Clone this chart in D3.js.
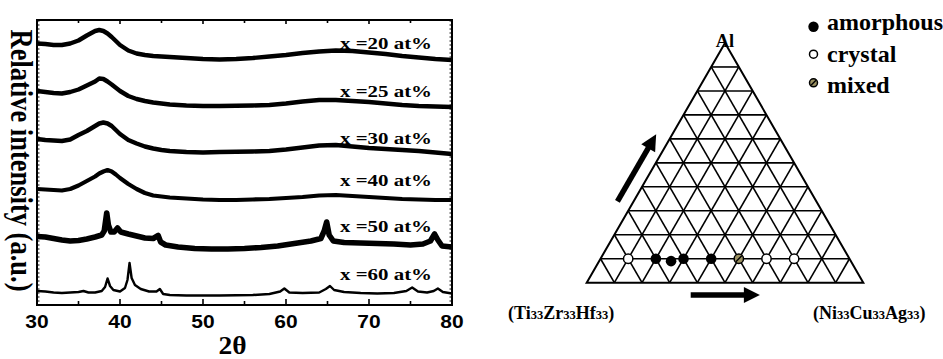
<!DOCTYPE html>
<html><head><meta charset="utf-8">
<script src="https://cdn.jsdelivr.net/npm/d3@7"></script>
<style>html,body{margin:0;padding:0;background:#fff;} svg{display:block;}</style>
</head><body>
<svg id="c" width="943" height="359"></svg>
<script>
// ---------- XRD data (2θ in degrees, relative intensity in a.u., curves already offset) ----------
const twoThetaTicks = [30, 40, 50, 60, 70, 80];
const seriesNames = ["x =20 at%", "x =25 at%", "x =30 at%", "x =40 at%", "x =50 at%", "x =60 at%"];
const labelLevels = [256.5, 208.5, 161.5, 119, 73.5, 25.5];
const seriesNoise = [4.4, 4.4, 4.4, 4.2, 5.6, 2.4];

const xrd20 = [[30,261.5],[31,261],[32,260],[33,260],[34,261.5],[35,264.5],[36,269.5],[37,274],[37.5,275],[38,274],[38.5,271.5],[39,268],[39.5,264],[40,260],[41,254.5],[42,251.5],[43,250],[44,249],[45,248.5],[46,248],[48,247],[50,246],[52,245.5],[54,246],[56,247],[58,248.5],[60,250],[62,252],[64,253.5],[66,254.5],[68,254],[70,252.5],[72,251],[74,249],[76,247.5],[78,246],[80,245]];
const xrd25 = [[30,214],[31,213],[32,212],[33,211.5],[34,213],[35,215.5],[36,219.5],[37,223.5],[37.5,226.5],[38,226],[38.5,223.5],[39,220.5],[40,214],[41,209],[42,206],[43,204],[44,202.5],[45,201.5],[46,200.5],[48,199.5],[50,199],[52,199],[54,199.3],[56,199.5],[58,200],[60,201.5],[62,203.5],[64,205],[66,205],[68,204],[70,203],[72,201.5],[74,200],[76,199],[78,198.5],[80,198]];
const xrd30 = [[30,166],[31,165],[32,164.5],[33,164],[34,165.5],[35,170],[36,174],[37,179],[37.5,181.5],[38,182.5],[38.5,181.5],[39,179],[39.5,175],[40,171],[41,165],[42,161.5],[43,158.5],[44,156.5],[45,155],[46,154],[48,153],[50,152.5],[52,153],[54,153.3],[56,153.5],[58,154],[60,155.5],[62,157.5],[64,159.5],[66,160],[68,158.5],[70,157],[72,156],[74,155],[76,154],[78,152.5],[80,151]];
const xrd40 = [[30,116],[31,115.5],[32,115],[33,114.5],[34,116],[35,119.5],[36,124],[37,128.5],[37.5,131.5],[38,133.5],[38.5,135],[39,133.5],[39.5,130.5],[40,127],[41,121],[42,116],[43,112],[44,109.5],[45,108.5],[46,107.5],[48,106.5],[50,105.5],[52,105],[54,105],[56,105.5],[58,106],[60,107],[62,108],[64,109.5],[66,110],[68,109],[70,108],[72,107],[74,106],[76,105.5],[78,105],[80,105]];
const xrd50 = [[30,68.5],[31,68],[32,66.5],[33,65],[34,64],[35,64.5],[36,66],[37,68],[37.8,70],[38.1,74],[38.4,92],[38.6,80],[38.9,73],[39.3,73],[39.7,77],[40.1,73],[41,71],[42,69],[43,67],[44,66.5],[44.6,69.5],[44.9,63],[45.5,60],[47,58],[49,56.5],[51,56],[53,56],[55,56.5],[57,57.5],[59,59],[61,61.5],[63,64],[64.2,66.5],[64.6,74],[64.9,83],[65.2,70],[65.7,64],[67,62.5],[69,62],[71,61.5],[73,61],[75,60],[76.5,61],[77.4,64],[77.9,71],[78.3,65],[78.8,59],[80,58]];
const xrd60 = [[30,14],[31,13.5],[32,12.5],[33,12],[34,12.5],[35,13],[35.6,14],[36.2,12.5],[37,12.5],[37.8,14],[38.2,18],[38.5,26.5],[38.8,19],[39.2,15],[40,13.5],[40.6,17],[40.9,25],[41.15,42],[41.4,27],[41.8,20],[42.5,16],[43.5,13.5],[44.4,13.5],[44.8,16],[45.2,11],[46,10],[48,9.5],[50,9.5],[52,9.5],[54,9.8],[56,10],[58,11],[59.3,13.5],[59.8,16.5],[60.4,12.5],[62,12],[64,12.5],[64.8,16],[65.3,19],[65.8,15],[67,13],[69,12],[71,11.5],[73,12],[74.5,14],[75.2,17.5],[75.9,13.5],[77,12.5],[77.8,14],[78.3,16.5],[78.9,13],[80,11.5]];
const xrdSeries = [xrd20, xrd25, xrd30, xrd40, xrd50, xrd60];

// ---------- Ternary data (at%) ----------
const ternaryCorners = ["Al", "(Ti33Zr33Hf33)", "(Ni33Cu33Ag33)"];
const ptNiCuAg = [10, 20, 26, 30, 40, 50, 60, 70];
const ptAl     = [10, 10, 9, 10, 10, 10, 10, 10];
const ptPhase  = ["crystal", "amorphous", "amorphous", "amorphous", "amorphous", "mixed", "crystal", "crystal"];
const legendItems = ["amorphous", "crystal", "mixed"];

// ---------- drawing ----------
const svg = d3.select("#c");
const SERIF = "'Liberation Serif','Times New Roman',serif";
const SANS = "'Liberation Sans',Arial,sans-serif";

const x = d3.scaleLinear().domain([30, 80]).range([37, 452]);
const y = d3.scaleLinear().domain([0, 285]).range([305, 20]);

svg.append("defs").append("clipPath").attr("id", "plotclip")
  .append("rect").attr("x", x(30)).attr("y", y(285)).attr("width", x(80) - x(30)).attr("height", y(0) - y(285));

// traces
const line = d3.line().x(d => x(d[0])).y(d => y(d[1]));
svg.append("g").attr("clip-path", "url(#plotclip)")
  .selectAll("path").data(xrdSeries).join("path")
  .attr("d", line).attr("fill", "none").attr("stroke", "#000")
  .attr("stroke-width", (d, i) => seriesNoise[i]).attr("stroke-linejoin", "round");

// frame
svg.append("rect").attr("x", x(30)).attr("y", y(285)).attr("width", x(80) - x(30)).attr("height", y(0) - y(285))
  .attr("fill", "none").attr("stroke", "#000").attr("stroke-width", 2);

// x ticks (bottom and top, inward)
const xt = x.ticks(10);
const gx = svg.append("g").attr("stroke", "#000").attr("stroke-width", 1.6);
xt.forEach(v => {
  const major = v % 10 === 0;
  gx.append("line").attr("x1", x(v)).attr("x2", x(v)).attr("y1", y(0)).attr("y2", y(0) - (major ? 6 : 4));
  gx.append("line").attr("x1", x(v)).attr("x2", x(v)).attr("y1", y(285)).attr("y2", y(285) + (major ? 4 : 3));
});
// y minor ticks (left and right, inward)
const yt = d3.range(0, 286, 4);
yt.forEach(v => {
  gx.append("line").attr("x1", x(30)).attr("x2", x(30) + 2.5).attr("y1", y(v)).attr("y2", y(v)).attr("stroke-width", 1);
  gx.append("line").attr("x1", x(80)).attr("x2", x(80) - 2.5).attr("y1", y(v)).attr("y2", y(v)).attr("stroke-width", 1);
});

// x tick labels
svg.append("g").selectAll("text").data(twoThetaTicks).join("text")
  .attr("transform", d => `translate(${x(d)},327.5) scale(1.2,1)`)
  .attr("text-anchor", "middle").attr("font-family", SANS).attr("font-weight", "bold")
  .attr("font-size", 17.5).text(d => d);

// axis titles
svg.append("text").attr("transform", `translate(${(x(30) + x(80)) / 2 - 12},353.5) scale(1.1,1)`)
  .attr("text-anchor", "middle").attr("font-family", SERIF).attr("font-weight", "bold").attr("font-size", 25)
  .text("2θ");
svg.append("text").attr("transform", `translate(10.5,160.5) scale(1.2,1) rotate(90)`)
  .attr("text-anchor", "middle").attr("font-family", SERIF).attr("font-weight", "bold").attr("font-size", 26.5)
  .text("Relative intensity (a.u.)");

// series labels
svg.append("g").selectAll("text").data(seriesNames).join("text")
  .attr("transform", (d, i) => `translate(340,${y(labelLevels[i])}) scale(1.23,1)`)
  .attr("font-family", SERIF).attr("font-weight", "bold").attr("font-size", 17).text(d => d);

// ---------- ternary ----------
const tx = d3.scaleLinear().domain([0, 100]).range([586.7, 863.3]);
const ty = d3.scaleLinear().domain([0, 100]).range([282.7, 43]);
const tp = (a, c) => [tx(c + a / 2), ty(a)];

const gt = svg.append("g").attr("stroke", "#000").attr("fill", "none");
const gridKs = d3.range(10, 100, 10);
const seg = (p, q, w) => gt.append("line").attr("x1", p[0]).attr("y1", p[1]).attr("x2", q[0]).attr("y2", q[1]).attr("stroke-width", w);
gridKs.forEach(k => {
  seg(tp(k, 0), tp(k, 100 - k), 1.6);
  seg(tp(0, k), tp(100 - k, k), 1.6);
  seg(tp(0, 100 - k), tp(100 - k, 0), 1.6);
});
gt.append("path").attr("d", "M" + [tp(0, 0), tp(0, 100), tp(100, 0)].map(p => p.join(",")).join("L") + "Z")
  .attr("stroke-width", 2).attr("stroke-linejoin", "miter");

// arrows
function arrow(p0, p1) {
  const dx = p1[0] - p0[0], dy = p1[1] - p0[1], L = Math.hypot(dx, dy);
  const ux = dx / L, uy = dy / L, hl = 16, hw = 8;
  const bx = p1[0] - ux * hl, by = p1[1] - uy * hl;
  svg.append("line").attr("x1", p0[0]).attr("y1", p0[1]).attr("x2", bx + ux).attr("y2", by + uy)
    .attr("stroke", "#000").attr("stroke-width", 5.5);
  svg.append("path").attr("d", `M${p1[0]},${p1[1]}L${bx - uy * hw},${by + ux * hw}L${bx + uy * hw},${by - ux * hw}Z`)
    .attr("fill", "#000");
}
{
  const A = tp(0, 0), B = tp(100, 0);
  const ex = B[0] - A[0], ey = B[1] - A[1], L = Math.hypot(ex, ey);
  const nx = ey / L, ny = -ex / L; // outward normal (left side)
  const off = 14;
  const s = tp(31, 0), e = tp(59, 0);
  arrow([s[0] + nx * off, s[1] + ny * off], [e[0] + nx * off, e[1] + ny * off]);
  const s2 = tp(0, 37.6), e2 = tp(0, 62.6);
  arrow([s2[0], s2[1] + 12.3], [e2[0], e2[1] + 12.3]);
}

// markers
function marker(g, cx, cy, phase, r) {
  if (phase === "amorphous") {
    g.append("circle").attr("cx", cx).attr("cy", cy).attr("r", r).attr("fill", "#000");
  } else if (phase === "crystal") {
    g.append("circle").attr("cx", cx).attr("cy", cy).attr("r", r - 0.6).attr("fill", "#fff").attr("stroke", "#000").attr("stroke-width", 1.5);
  } else {
    g.append("circle").attr("cx", cx).attr("cy", cy).attr("r", r - 0.6).attr("fill", "#9a9060").attr("stroke", "#000").attr("stroke-width", 1.5);
    const q = r * 0.55;
    g.append("line").attr("x1", cx - q).attr("y1", cy + q).attr("x2", cx + q).attr("y2", cy - q)
      .attr("stroke", "#000").attr("stroke-width", 1.4);
  }
}
const gp = svg.append("g");
ptNiCuAg.forEach((c, i) => {
  const p = tp(ptAl[i], c);
  marker(gp, p[0], p[1], ptPhase[i], 5.3);
});

// corner labels
svg.append("text").attr("x", tx(50)).attr("y", 46.5).attr("text-anchor", "middle")
  .attr("font-family", SERIF).attr("font-weight", "bold").attr("font-size", 18.5).text(ternaryCorners[0]);

function formula(xpos, ypos, str) {
  const t = svg.append("text").attr("x", xpos).attr("y", ypos)
    .attr("font-family", SERIF).attr("font-weight", "bold").attr("font-size", 18);
  str.split(/(\d+)/).forEach(part => {
    if (!part) return;
    const isNum = /^\d+$/.test(part);
    t.append("tspan").attr("font-size", isNum ? 12.5 : 18).text(part);
  });
}
formula(508, 319, ternaryCorners[1]);
formula(813, 319, ternaryCorners[2]);

// legend
const legY = [26.7, 54.2, 82.8], legBase = [30, 61.5, 92.5];
const gl = svg.append("g");
legendItems.forEach((name, i) => {
  marker(gl, 813.5, legY[i], name, name === "amorphous" ? 5.2 : 4.6);
  gl.append("text").attr("x", 827).attr("y", legBase[i])
    .attr("font-family", SERIF).attr("font-weight", "bold").attr("font-size", 24).text(name);
});
</script></body></html>
